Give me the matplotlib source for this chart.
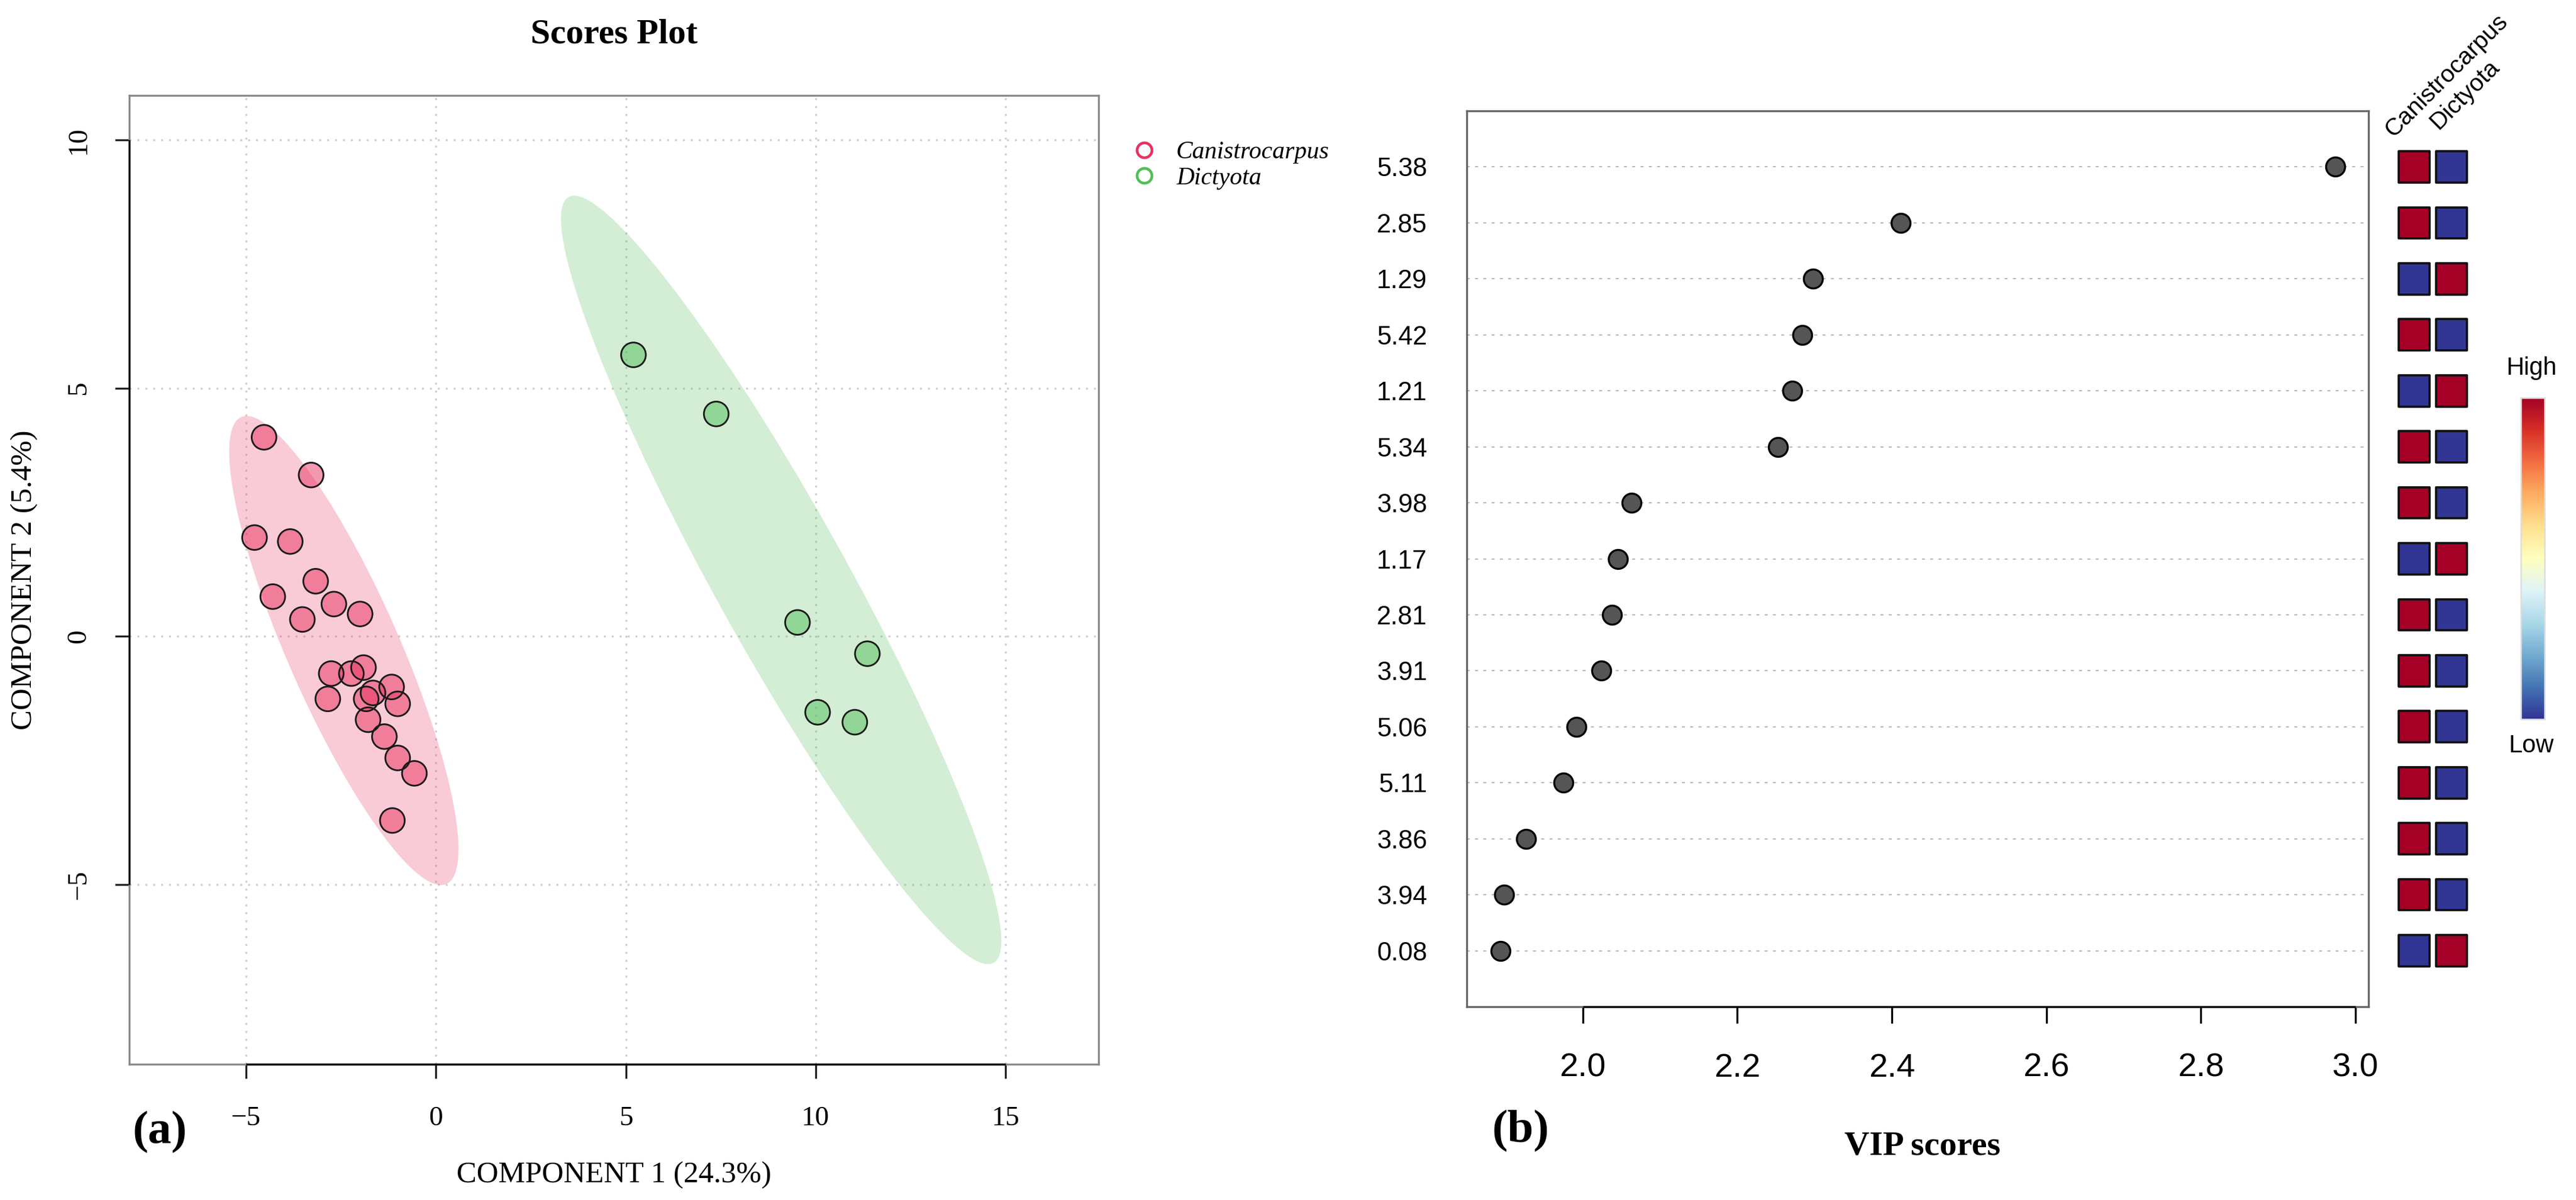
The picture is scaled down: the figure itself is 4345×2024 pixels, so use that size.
import numpy as np
import matplotlib
matplotlib.use("Agg")
import matplotlib.pyplot as plt
from matplotlib.patches import Ellipse
from matplotlib.lines import Line2D

W, H = 4345, 2024
DPI = 300

SERIF = ["Liberation Serif", "DejaVu Serif"]
SANS = ["Liberation Sans", "DejaVu Sans"]

# ---- scores plot (a) ----
groups = ["Canistrocarpus", "Dictyota"]
canis_x = [-4.53, -3.29, -4.78, -3.84, -3.17, -4.30, -2.69, -3.52, -2.00, -2.76, -2.23,
           -1.91, -2.85, -1.84, -1.66, -1.17, -1.01, -1.79, -1.36, -1.01, -0.57, -1.15]
canis_y = [4.01, 3.25, 1.99, 1.91, 1.11, 0.80, 0.65, 0.34, 0.45, -0.75, -0.75,
           -0.63, -1.26, -1.26, -1.14, -1.02, -1.36, -1.68, -2.02, -2.45, -2.76, -3.71]
dict_x = [5.20, 7.38, 9.52, 11.36, 10.05, 11.03]
dict_y = [5.67, 4.48, 0.28, -0.35, -1.53, -1.73]
x_ticks_a = [-5, 0, 5, 10, 15]
y_ticks_a = [-5, 0, 5, 10]

# ---- VIP plot (b) ----
vip_features = ["5.38", "2.85", "1.29", "5.42", "1.21", "5.34", "3.98", "1.17",
                "2.81", "3.91", "5.06", "5.11", "3.86", "3.94", "0.08"]
vip_scores = [2.974, 2.412, 2.298, 2.284, 2.271, 2.253, 2.063, 2.046,
              2.038, 2.024, 1.992, 1.975, 1.927, 1.898, 1.894]
# 1 = high in Canistrocarpus, 0 = low
canis_high = [1, 1, 0, 1, 0, 1, 1, 0, 1, 1, 1, 1, 1, 1, 0]
x_ticks_b = [2.0, 2.2, 2.4, 2.6, 2.8, 3.0]

col_pink = "#E8325F"
col_green = "#50BE5A"

fig = plt.figure(figsize=(W / DPI, H / DPI), dpi=DPI)


def px_axes(l, t, r, b):
    return fig.add_axes([l / W, 1 - b / H, (r - l) / W, (b - t) / H])


def conf_ellipse(ax, x, y, color):
    x = np.asarray(x)
    y = np.asarray(y)
    vals, vecs = np.linalg.eigh(np.cov(x, y))
    k = np.sqrt(5.991)
    ang = np.degrees(np.arctan2(vecs[1, 1], vecs[0, 1]))
    e = Ellipse((x.mean(), y.mean()), 2 * k * np.sqrt(vals[1]), 2 * k * np.sqrt(vals[0]),
                angle=ang, facecolor=color, alpha=0.25, edgecolor="none", zorder=1)
    ax.add_patch(e)


# ================= (a) =================
ax = px_axes(218, 161, 1853, 1795)
ax.set_xlim(-8.08, 17.45)
ax.set_ylim(-8.62, 10.896)
ax.set_axisbelow(True)
ax.grid(True, color="#CFCFCF", linestyle=(0, (1, 3)), linewidth=0.8)

conf_ellipse(ax, canis_x, canis_y, col_pink)
conf_ellipse(ax, dict_x, dict_y, col_green)
ax.scatter(canis_x, canis_y, s=100, facecolor=col_pink, alpha=0.5, edgecolor="none", zorder=3)
ax.scatter(canis_x, canis_y, s=100, facecolor="none", edgecolor="#1a1a1a", linewidth=0.7, zorder=4)
ax.scatter(dict_x, dict_y, s=100, facecolor=col_green, alpha=0.5, edgecolor="none", zorder=3)
ax.scatter(dict_x, dict_y, s=100, facecolor="none", edgecolor="#1a1a1a", linewidth=0.7, zorder=4)

ax.set_xticks(x_ticks_a)
ax.set_yticks(y_ticks_a)
for sp in ax.spines.values():
    sp.set_color("#8a8a8a")
    sp.set_linewidth(0.8)
x0, x1 = ax.get_xlim()
y0, y1 = ax.get_ylim()
ax.plot([x_ticks_a[0], x_ticks_a[-1]], [y0, y0], color="black", lw=0.8, clip_on=False,
        solid_capstyle="butt", zorder=6)
ax.plot([x0, x0], [y_ticks_a[0], y_ticks_a[-1]], color="black", lw=0.8, clip_on=False,
        solid_capstyle="butt", zorder=6)
ax.tick_params(axis="both", direction="out", length=5.8, width=0.8, color="#222222",
               labelsize=11.3)
ax.tick_params(axis="x", pad=11)
ax.tick_params(axis="y", pad=9.5)
for lab in ax.get_xticklabels() + ax.get_yticklabels():
    lab.set_family(SERIF)
for lab in ax.get_yticklabels():
    lab.set_rotation(90)
    lab.set_va("center")

ax.text(0.5, 1 + (161 - 58) / 1634, "Scores Plot", transform=ax.transAxes, ha="center",
        va="center", fontsize=14.3, fontweight="bold", family=SERIF)
ax.set_xlabel("COMPONENT 1 (24.3%)", fontsize=12.2, family=SERIF)
ax.xaxis.set_label_coords(0.5, -(1982 - 1795) / 1634)
ax.xaxis.label.set_va("center")
ax.set_ylabel("COMPONENT 2 (5.4%)", fontsize=12.2, family=SERIF)
ax.yaxis.set_label_coords(-(218 - 41) / 1635, 0.5)
ax.yaxis.label.set_va("center")

handles = [Line2D([], [], marker="o", ls="", mfc="none", mec=c, mew=1.1, ms=6)
           for c in (col_pink, col_green)]
leg = ax.legend(handles, groups, loc="upper left", bbox_to_anchor=(1909 / W, 1 - 238 / H),
                bbox_transform=fig.transFigure, frameon=False, handlelength=1.0,
                handletextpad=0.8, labelspacing=0.12, borderpad=0, borderaxespad=0,
                prop=dict(family=SERIF, style="italic", size=10))

fig.text(270 / W, 1 - 1910 / H, "(a)", ha="center", va="center", fontsize=19,
         fontweight="bold", family=SERIF)

# ================= (b) =================
bx = px_axes(2474, 187, 3995, 1698)
n = len(vip_features)
rows = np.arange(n, 0, -1)
bx.set_xlim(1.850, 3.017)
bx.set_ylim(0, n + 1)
bx.set_yticks(rows)
bx.set_yticklabels(vip_features, family=SANS, fontsize=10.5)
bx.set_xticks(x_ticks_b)
bx.set_xticklabels(["%.1f" % v for v in x_ticks_b], family=SANS, fontsize=13.5)
bx.set_axisbelow(True)
bx.grid(True, axis="y", color="#B8B8B8", linestyle=(0, (2.4, 4.3)), linewidth=0.5)
bx.scatter(vip_scores, rows, s=59, c="#555555", edgecolors="black", linewidths=0.8, zorder=3)
for sp in bx.spines.values():
    sp.set_color("#666666")
    sp.set_linewidth(0.8)
bx.plot([x_ticks_b[0], x_ticks_b[-1]], [0, 0], color="black", lw=0.8, clip_on=False,
        solid_capstyle="butt", zorder=6)
bx.tick_params(axis="x", direction="out", length=6.7, width=0.8, pad=12)
bx.tick_params(axis="y", length=0, pad=16)

bx.set_xlabel("VIP scores", fontsize=14, fontweight="bold", family=SERIF)
bx.xaxis.set_label_coords((3243 - 2474) / 1521, -(1933 - 1698) / 1511)
bx.xaxis.label.set_va("center")

fig.text(2565 / W, 1 - 1908 / H, "(b)", ha="center", va="center", fontsize=19,
         fontweight="bold", family=SERIF)

# heat squares
hx = px_axes(4040.5, 187, 4166.5, 1698)
hx.set_xlim(0.5, 2.5)
hx.set_ylim(0, n + 1)
hx.axis("off")
high = np.array(canis_high)
hx.scatter(np.ones(n), rows, c=high, cmap="RdYlBu_r", vmin=0, vmax=1, marker="s",
           s=160, edgecolors="#111111", linewidths=0.9, zorder=3)
hx.scatter(np.full(n, 2), rows, c=1 - high, cmap="RdYlBu_r", vmin=0, vmax=1, marker="s",
           s=160, edgecolors="#111111", linewidths=0.9, zorder=3)
hx.text(0.5 + (4037 - 4040.5) / 63, n + 1 - (232 - 187) / 94.44, groups[0], rotation=45,
        rotation_mode="anchor", ha="left", va="baseline", fontsize=9.8, family=SANS)
hx.text(0.5 + (4113 - 4040.5) / 63, n + 1 - (219 - 187) / 94.44, groups[1], rotation=45,
        rotation_mode="anchor", ha="left", va="baseline", fontsize=9.8, family=SANS)

# colour key
cx = px_axes(4252, 671, 4292, 1213)
cx.imshow(np.linspace(1, 0, 256)[:, None], cmap="RdYlBu_r", aspect="auto")
cx.set_xticks([])
cx.set_yticks([])
for sp in cx.spines.values():
    sp.set_color("#DDDDDD")
    sp.set_linewidth(0.6)
fig.text(4270 / W, 1 - 621 / H, "High", ha="center", va="center", fontsize=10, family=SANS)
fig.text(4270 / W, 1 - 1258 / H, "Low", ha="center", va="center", fontsize=10, family=SANS)

fig.savefig("out.png", dpi=DPI)
